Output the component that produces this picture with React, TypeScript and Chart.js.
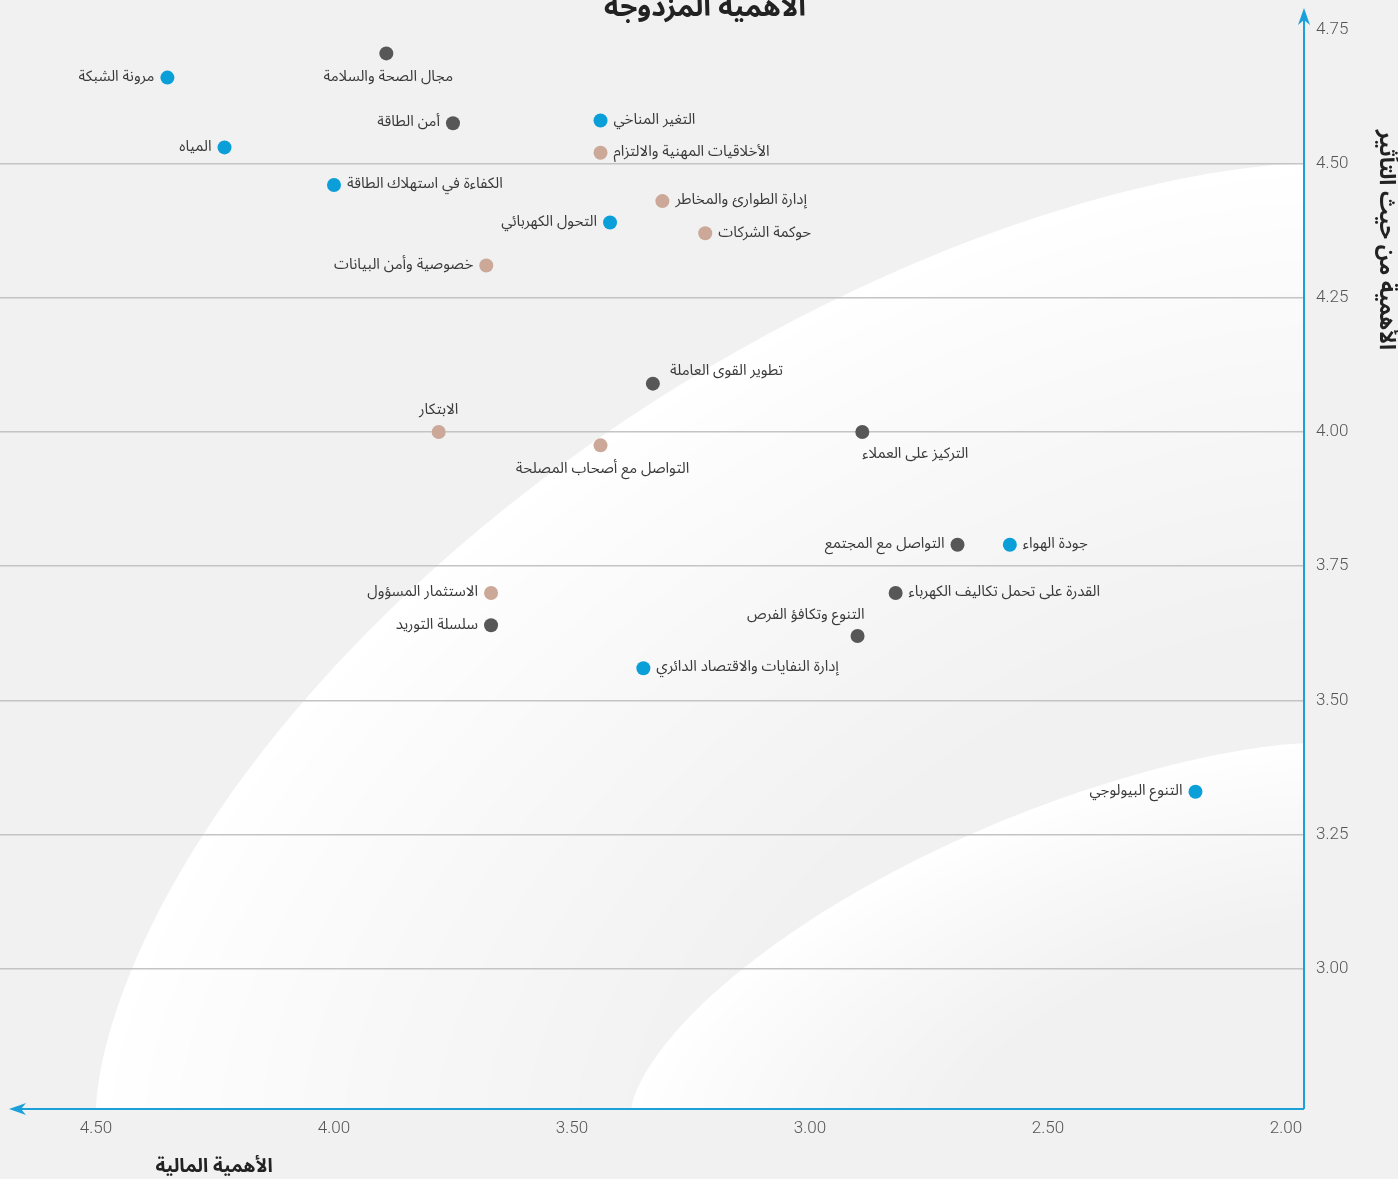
import { useEffect, useRef } from 'react';
import { Chart, registerables } from 'chart.js';

Chart.register(...registerables);

// ---------- data ----------
const chartTitle = 'الأهمية المزدوجة';
const xAxisTitle = 'الأهمية المالية';
const yAxisTitle = 'الأهمية من حيث التأثير';

const xTicks = [2.0, 2.5, 3.0, 3.5, 4.0, 4.5];
const yTicks = [3.0, 3.25, 3.5, 3.75, 4.0, 4.25, 4.5, 4.75];

// Environmental (blue)
const envTopics = ['مرونة الشبكة', 'المياه', 'التغير المناخي', 'الكفاءة في استهلاك الطاقة', 'التحول الكهربائي', 'جودة الهواء', 'إدارة النفايات والاقتصاد الدائري', 'التنوع البيولوجي'];
const envFinancial = [4.35, 4.23, 3.44, 4.0, 3.42, 2.58, 3.35, 2.19];
const envImpact = [4.66, 4.53, 4.58, 4.46, 4.39, 3.79, 3.56, 3.33];

// Social (dark grey)
const socTopics = ['مجال الصحة والسلامة', 'أمن الطاقة', 'تطوير القوى العاملة', 'التركيز على العملاء', 'التواصل مع المجتمع', 'القدرة على تحمل تكاليف الكهرباء', 'سلسلة التوريد', 'التنوع وتكافؤ الفرص'];
const socFinancial = [3.89, 3.75, 3.33, 2.89, 2.69, 2.82, 3.67, 2.9];
const socImpact = [4.705, 4.575, 4.09, 4.0, 3.79, 3.7, 3.64, 3.62];

// Governance (tan)
const govTopics = ['الأخلاقيات المهنية والالتزام', 'إدارة الطوارئ والمخاطر', 'حوكمة الشركات', 'خصوصية وأمن البيانات', 'الابتكار', 'التواصل مع أصحاب المصلحة', 'الاستثمار المسؤول'];
const govFinancial = [3.44, 3.31, 3.22, 3.68, 3.78, 3.44, 3.67];
const govImpact = [4.52, 4.43, 4.37, 4.31, 4.0, 3.975, 3.7];

// label placement (relative to each point)
const envLabelSide = ['left', 'left', 'right', 'right', 'left', 'right', 'right', 'left'];
const socLabelSide = ['below', 'left', 'aboveRight', 'belowRight', 'left', 'right', 'left', 'aboveLeft'];
const govLabelSide = ['right', 'right', 'right', 'left', 'above', 'below', 'left'];

// axis ranges & background zones (data space)
const X_MIN = 1.962;
const X_MAX = 4.7017;
const Y_MIN = 2.739;
const Y_MAX = 4.8045;
const outerZone = { x: 4.5, y: 4.5, n: 1.6 };
const innerZone = { x: 3.375, y: 3.42, n: 1.5 };

// ---------- styles ----------
const BG = '#f1f1f1';
const BLUE = '#0a9fd8';
const DARK = '#575757';
const TAN = '#cba898';
const AXIS_BLUE = '#1ba0da';
const AR_FONT = "'Noto Sans Arabic', 'DejaVu Sans', 'Noto Sans', sans-serif";

function superPath(ctx: CanvasRenderingContext2D, cx: number, cy: number, a: number, b: number, n: number) {
  ctx.beginPath();
  ctx.moveTo(cx, cy);
  const steps = 120;
  for (let i = 0; i <= steps; i++) {
    const t = (i / steps) * (Math.PI / 2);
    const c = Math.pow(Math.cos(t), 2 / n);
    const s = Math.pow(Math.sin(t), 2 / n);
    ctx.lineTo(cx - a * c, cy - b * s);
  }
  ctx.closePath();
}

const backgroundPlugin = {
  id: 'zoneBackground',
  beforeDraw(chart: any) {
    const { ctx, chartArea, scales } = chart;
    ctx.save();
    ctx.fillStyle = BG;
    ctx.fillRect(0, 0, chart.width, chart.height);
    ctx.beginPath();
    ctx.rect(chartArea.left, chartArea.top, chartArea.right - chartArea.left, chartArea.bottom - chartArea.top);
    ctx.clip();
    const cx = scales.x.getPixelForValue(X_MIN);
    const cy = scales.y.getPixelForValue(Y_MIN);
    [outerZone, innerZone].forEach((z) => {
      const a = cx - scales.x.getPixelForValue(z.x);
      const b = cy - scales.y.getPixelForValue(z.y);
      const steps = 80;
      for (let k = 0; k <= steps; k++) {
        const s = 1 - (k / steps) * 0.55;
        const t = Math.min(1, (1 - s) / 0.5);
        const g = Math.round(255 - (255 - 241) * Math.pow(t, 0.85));
        ctx.fillStyle = `rgb(${g},${g},${g})`;
        superPath(ctx, cx, cy, a * s, b * s, z.n);
        ctx.fill();
      }
    });
    ctx.restore();
  },
};

const axesPlugin = {
  id: 'arrowAxes',
  afterDatasetsDraw(chart: any) {
    const { ctx, chartArea } = chart;
    const x0 = chartArea.right;
    const y0 = chartArea.bottom;
    ctx.save();
    ctx.strokeStyle = AXIS_BLUE;
    ctx.fillStyle = AXIS_BLUE;
    ctx.lineWidth = 2;
    ctx.beginPath();
    ctx.moveTo(x0, y0);
    ctx.lineTo(x0, 16);
    ctx.moveTo(x0, y0);
    ctx.lineTo(16, y0);
    ctx.stroke();
    // top arrow
    ctx.beginPath();
    ctx.moveTo(x0, 8);
    ctx.lineTo(x0 + 6, 25);
    ctx.lineTo(x0, 20);
    ctx.lineTo(x0 - 6, 25);
    ctx.closePath();
    ctx.fill();
    // left arrow
    ctx.beginPath();
    ctx.moveTo(9, y0);
    ctx.lineTo(26, y0 - 6);
    ctx.lineTo(21, y0);
    ctx.lineTo(26, y0 + 6);
    ctx.closePath();
    ctx.fill();
    ctx.restore();
  },
};

const labelPlugin = {
  id: 'topicLabels',
  afterDatasetsDraw(chart: any) {
    const ctx = chart.ctx;
    ctx.save();
    ctx.font = `15px ${AR_FONT}`;
    ctx.fillStyle = '#3a3a3a';
    ctx.direction = 'rtl';
    ctx.textBaseline = 'middle';
    chart.data.datasets.forEach((ds: any, di: number) => {
      const meta = chart.getDatasetMeta(di);
      meta.data.forEach((pt: any, i: number) => {
        const side = ds.sides[i];
        let tx = pt.x;
        let ty = pt.y + 1;
        let align: CanvasTextAlign = 'center';
        if (side === 'left') { tx = pt.x - 13; align = 'right'; }
        else if (side === 'right') { tx = pt.x + 13; align = 'left'; }
        else if (side === 'above') { ty = pt.y - 20; }
        else if (side === 'below') { ty = pt.y + 25; tx = pt.x + 2; }
        else if (side === 'aboveRight') { tx = pt.x + 17; ty = pt.y - 11; align = 'left'; }
        else if (side === 'belowRight') { ty = pt.y + 24; align = 'left'; }
        else if (side === 'aboveLeft') { tx = pt.x + 7; ty = pt.y - 19; align = 'right'; }
        ctx.textAlign = align;
        ctx.fillText(ds.topics[i], tx, ty);
      });
    });
    ctx.restore();
  },
};

const titlesPlugin = {
  id: 'titles',
  afterDraw(chart: any) {
    const ctx = chart.ctx;
    ctx.save();
    ctx.fillStyle = '#222';
    ctx.direction = 'rtl';
    ctx.textAlign = 'center';
    ctx.textBaseline = 'alphabetic';
    ctx.font = `bold 28px ${AR_FONT}`;
    ctx.fillText(chartTitle, 705, 16);
    ctx.font = `bold 19px ${AR_FONT}`;
    ctx.fillText(xAxisTitle, 214, 1172);
    ctx.font = `bold 22px ${AR_FONT}`;
    ctx.translate(1383, 240);
    ctx.rotate(Math.PI / 2);
    ctx.textBaseline = 'middle';
    ctx.fillText(yAxisTitle, 0, 0);
    ctx.restore();
  },
};

const zeroPad = (s: any) => {
  s.paddingTop = 0;
  s.paddingBottom = 0;
  s.paddingLeft = 0;
  s.paddingRight = 0;
};

const App = () => {
  const ref = useRef<HTMLCanvasElement>(null);
  useEffect(() => {
    document.body.style.margin = '0';
    document.body.style.background = BG;
    const mk = (xs: number[], ys: number[]) => xs.map((x, i) => ({ x, y: ys[i] }));
    const chart = new Chart(ref.current as HTMLCanvasElement, {
      type: 'scatter',
      data: {
        datasets: [
          { label: 'env', data: mk(envFinancial, envImpact), backgroundColor: BLUE, pointRadius: 7, borderWidth: 0, topics: envTopics, sides: envLabelSide } as any,
          { label: 'soc', data: mk(socFinancial, socImpact), backgroundColor: DARK, pointRadius: 7, borderWidth: 0, topics: socTopics, sides: socLabelSide } as any,
          { label: 'gov', data: mk(govFinancial, govImpact), backgroundColor: TAN, pointRadius: 7, borderWidth: 0, topics: govTopics, sides: govLabelSide } as any,
        ],
      },
      options: {
        responsive: false,
        animation: false,
        events: [],
        layout: { padding: 0, autoPadding: false },
        plugins: { legend: { display: false }, tooltip: { enabled: false }, title: { display: false } },
        scales: {
          x: {
            type: 'linear',
            position: 'bottom',
            reverse: true,
            min: X_MIN,
            max: X_MAX,
            grid: { display: false },
            border: { display: false },
            afterBuildTicks: (s: any) => { s.ticks = xTicks.map((v) => ({ value: v })); },
            afterFit: (s: any) => { s.height = 70; zeroPad(s); },
            ticks: {
              autoSkip: false,
              maxRotation: 0,
              padding: 2,
              color: '#555',
              font: { family: 'Roboto', size: 17, weight: 300 as any },
              callback: (v: any) => Number(v).toFixed(2),
            },
          },
          y: {
            type: 'linear',
            position: 'right',
            min: Y_MIN,
            max: Y_MAX,
            grid: {
              color: (c: any) => (c.tick && c.tick.value > 4.7 ? 'rgba(0,0,0,0)' : '#c4c4c4'),
              lineWidth: 1.5,
              drawTicks: false,
            },
            border: { display: false },
            afterBuildTicks: (s: any) => { s.ticks = yTicks.map((v) => ({ value: v })); },
            afterFit: (s: any) => { s.width = 94; zeroPad(s); },
            ticks: {
              padding: 12,
              color: '#555',
              font: { family: 'Roboto', size: 17, weight: 300 as any },
              callback: (v: any) => Number(v).toFixed(2),
            },
          },
        },
      },
      plugins: [backgroundPlugin, axesPlugin, labelPlugin, titlesPlugin],
    });
    return () => chart.destroy();
  }, []);
  return (
    <div style={{ width: 1398, height: 1179, background: BG }}>
      <canvas ref={ref} width={1398} height={1179} style={{ display: 'block' }} />
    </div>
  );
};

export default App;
